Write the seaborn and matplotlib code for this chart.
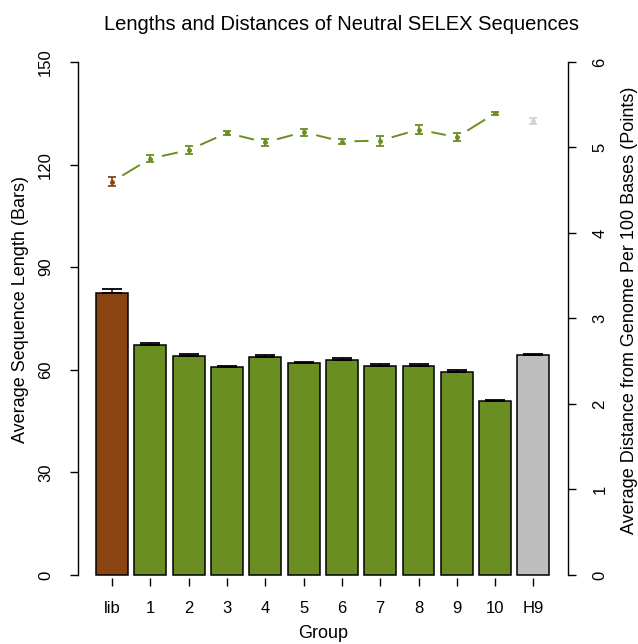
import numpy as np
import pandas as pd
import matplotlib
matplotlib.use("Agg")
import matplotlib.pyplot as plt
import seaborn as sns

# values
groups = ["lib", "1", "2", "3", "4", "5", "6", "7", "8", "9", "10", "H9"]
seq_length = [82.5, 67.3, 64.0, 60.8, 63.8, 62.0, 62.9, 61.1, 61.2, 59.4, 51.0, 64.3]
seq_length_err = [1.1, 0.6, 0.7, 0.3, 0.5, 0.4, 0.4, 0.7, 0.5, 0.4, 0.2, 0.4]
distance = [4.60, 4.87, 4.97, 5.17, 5.06, 5.18, 5.07, 5.08, 5.21, 5.12, 5.40, 5.31]
distance_err = [0.05, 0.04, 0.05, 0.02, 0.04, 0.04, 0.035, 0.06, 0.05, 0.045, 0.015, 0.03]

brown = "#8B4513"
green = "#6B8E23"
bar_colors = [brown] + [green] * 10 + ["#BEBEBE"]
point_colors = [brown] + [green] * 10 + ["#D3D3D3"]

sns.set_style("white")
plt.rcParams["font.family"] = ["Liberation Sans", "DejaVu Sans"]
plt.rcParams.update({"text.color": "black", "axes.labelcolor": "black",
                     "xtick.color": "black", "ytick.color": "black"})

df = pd.DataFrame({"group": groups, "length": seq_length})

fig = plt.figure(figsize=(6.38, 6.44), dpi=100)
ax = fig.add_axes([0.1223, 0.1019, 0.7672, 0.8337])

sns.barplot(data=df, x="group", y="length", hue="group", palette=bar_colors,
            legend=False, width=0.833, edgecolor="black", linewidth=1.1,
            saturation=1, ax=ax)
pos = np.arange(len(groups))
ax.errorbar(pos, seq_length, yerr=[np.zeros(len(groups)), seq_length_err],
            fmt="none", ecolor="black", elinewidth=1.1, capsize=7.5, capthick=1.3, zorder=3)

ax.set_xlim(-0.89, 11.89)
ax.set_ylim(-1, 156)
ax.set_yticks([0, 30, 60, 90, 120, 150])
for s in ["top", "right", "bottom"]:
    ax.spines[s].set_visible(False)
ax.spines["left"].set_bounds(0, 150)
ax.spines["left"].set_linewidth(1.0)
ax.spines["left"].set_color("black")
ax.tick_params(axis="both", direction="out", length=6, width=1.0,
               labelsize=12, bottom=True, left=True)
ax.tick_params(axis="x", pad=10)
ax.tick_params(axis="y", labelrotation=90, pad=12)
for t in ax.get_yticklabels():
    t.set_va("center")
ax.set_xlabel("Group", fontsize=13)
ax.set_ylabel("Average Sequence Length (Bars)", fontsize=13)
ax.xaxis.set_label_coords(0.5, -0.086)
ax.yaxis.set_label_coords(-0.100, 0.5)

# points on second axis
ax2 = ax.twinx()
sns.lineplot(x=pos[:11], y=distance[:11], color=green, linewidth=1.4, ax=ax2, zorder=1)
ax2.scatter(pos, distance, s=300, color="white", zorder=2, linewidths=0)
for i in range(len(groups)):
    ax2.errorbar(pos[i], distance[i], yerr=distance_err[i], fmt="o", markersize=2.5,
                 color=point_colors[i], ecolor=point_colors[i], elinewidth=1.3,
                 capsize=3, capthick=1.3, zorder=3)
ax2.set_ylim(-0.04, 6.24)
ax2.set_yticks([0, 1, 2, 3, 4, 5, 6])
for s in ["top", "left", "bottom"]:
    ax2.spines[s].set_visible(False)
ax2.spines["right"].set_bounds(0, 6)
ax2.spines["right"].set_linewidth(1.0)
ax2.spines["right"].set_color("black")
ax2.tick_params(axis="y", direction="out", length=6, width=1.0,
                labelsize=12, right=True, pad=12, labelrotation=90)
for t in ax2.get_yticklabels():
    t.set_va("center")
ax2.set_ylabel("Average Distance from Genome Per 100 Bases (Points)", fontsize=13)
ax2.yaxis.set_label_coords(1.110, 0.5)

fig.suptitle("Lengths and Distances of Neutral SELEX Sequences", fontsize=14.5, x=0.535, y=0.977)

fig.savefig("out.png", dpi=100)
